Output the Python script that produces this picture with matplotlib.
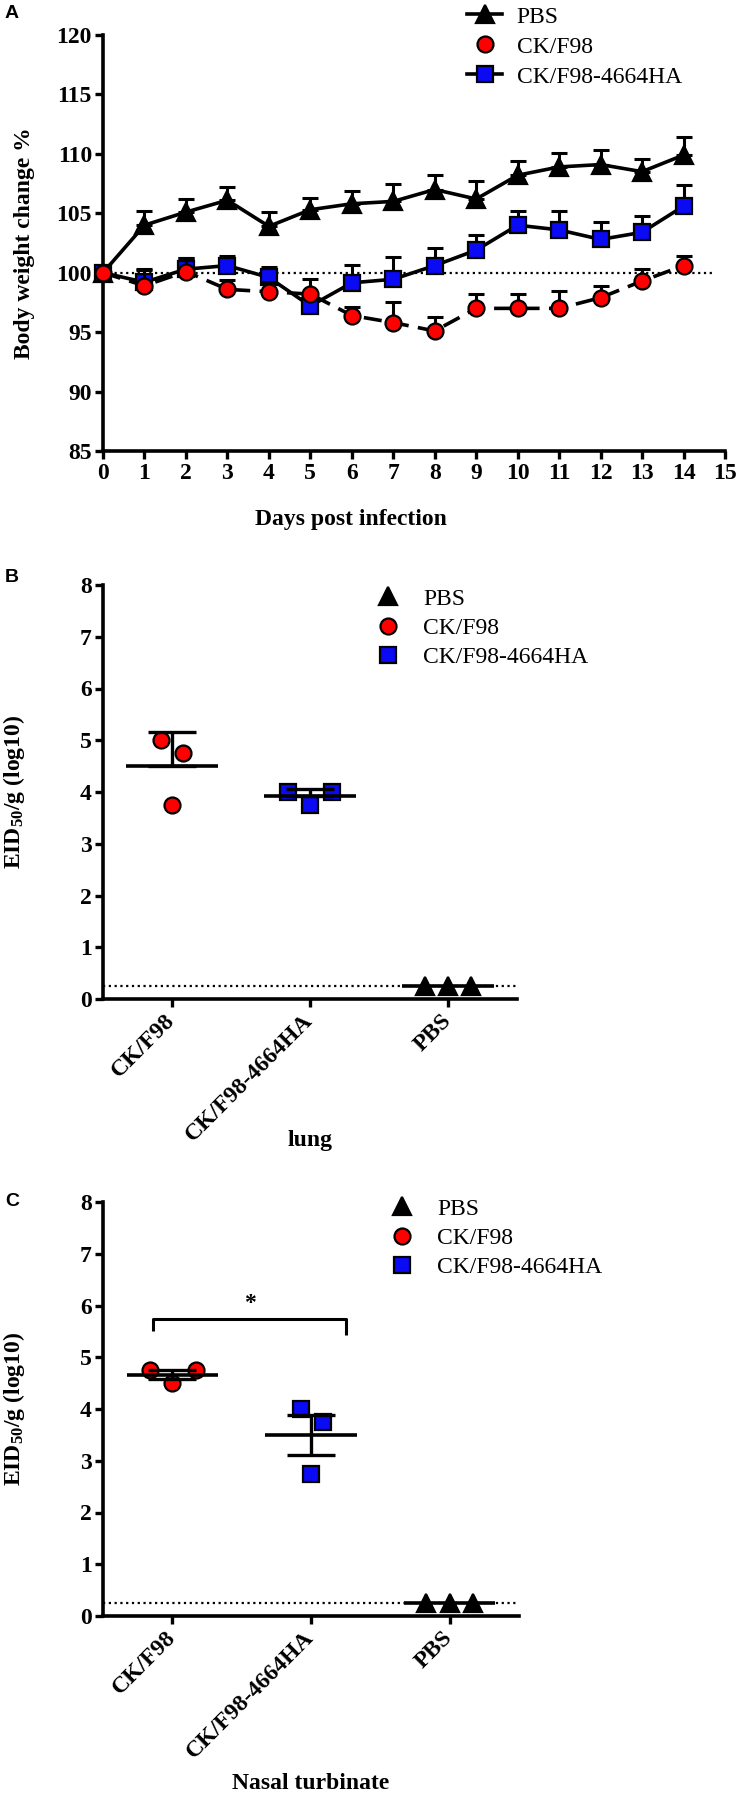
import matplotlib
matplotlib.use('Agg')
import matplotlib.pyplot as plt
import numpy as np
from matplotlib.lines import Line2D

plt.rcParams['font.family'] = ['Liberation Serif', 'DejaVu Serif']
plt.rcParams['font.weight'] = 'bold'
plt.rcParams['mathtext.fontset'] = 'custom'
plt.rcParams['mathtext.rm'] = 'Liberation Serif:bold'
plt.rcParams['mathtext.it'] = 'Liberation Serif:bold'
plt.rcParams['mathtext.bf'] = 'Liberation Serif:bold'

# ---------------- data ----------------
days = list(range(0, 15))
pbs_weight = [100, 104.0, 105.1, 106.1, 103.9, 105.3, 105.8, 106.0, 107.0, 106.2, 108.2, 108.9, 109.1, 108.5, 109.9]
pbs_err = [0, 1.2, 1.1, 1.1, 1.2, 1.0, 1.1, 1.5, 1.2, 1.5, 1.2, 1.2, 1.2, 1.1, 1.5]
ck_weight = [100, 98.9, 100.1, 98.6, 98.4, 98.2, 96.4, 95.8, 95.1, 97.0, 97.0, 97.0, 97.9, 99.3, 100.6]
ck_err = [0, 1.4, 1.1, 0.8, 0.8, 1.3, 0.7, 1.7, 1.2, 1.2, 1.2, 1.5, 1.0, 1.0, 0.8]
ha_weight = [100, 99.2, 100.3, 100.6, 99.6, 97.2, 99.15, 99.45, 100.6, 101.9, 104.0, 103.6, 102.8, 103.4, 105.6]
ha_err = [0, 1.0, 0.9, 0.8, 0.9, 0.8, 1.5, 1.9, 1.5, 1.3, 1.2, 1.6, 1.5, 1.4, 1.8]

categories = ['CK/F98', 'CK/F98-4664HA', 'PBS']
legend_labels = ['PBS', 'CK/F98', 'CK/F98-4664HA']

lung_ck = [5.0, 4.75, 3.75]
lung_ha = [4.0, 3.75, 4.0]
lung_pbs = [0.25, 0.25, 0.25]

nasal_ck = [4.75, 4.5, 4.75]
nasal_ha = [4.0, 3.75, 2.75]
nasal_pbs = [0.25, 0.25, 0.25]

detection_limit = 0.25

# ---------------- layout / style ----------------
RED = '#FF0000'
BLUE = '#0A0AF5'
LW = 2.6
MS = 11.5
MEW = 1.6
FS = 17
LEGFS = 17
DOTS = (0, (1.0, 1.6))

fig = plt.figure(figsize=(7.39, 17.98), dpi=100)
W, H = 739.0, 1798.0


def ax_rect(l, r, t, b):
    return [l / W, 1 - b / H, (r - l) / W, (b - t) / H]


def style_axes(ax):
    for s in ['top', 'right']:
        ax.spines[s].set_visible(False)
    for s in ['left', 'bottom']:
        ax.spines[s].set_linewidth(2.6)
    ax.tick_params(axis='both', which='major', direction='out', length=5.5, width=2.4,
                   labelsize=FS)
    ax.tick_params(axis='y', pad=2.5)
    ax.tick_params(axis='x', pad=3)
    for lab in ax.get_xticklabels() + ax.get_yticklabels():
        lab.set_fontweight('bold')


# ---------------- Panel A ----------------
axA = fig.add_axes(ax_rect(103, 725, 35, 451))
axA.set_xlim(0, 15)
axA.set_ylim(85, 120)
axA.axhline(100, xmin=0, xmax=14.7 / 15, color='black', lw=1.6, ls=DOTS, zorder=1)

zeros = np.zeros(len(days))
series = [
    (pbs_weight, pbs_err, '^', 'black', '-', 3),
    (ha_weight, ha_err, 's', BLUE, '-', 4),
    (ck_weight, ck_err, 'o', RED, (0, (5.0, 2.6)), 5),
]
for vals, err, mk, fc, ls, z in series:
    axA.errorbar(days, vals, yerr=[zeros, err], fmt='none', ecolor='black', elinewidth=2.2,
                 capsize=5.5, capthick=2.2, zorder=z - 0.5, clip_on=False)
    axA.plot(days, vals, color='black', lw=LW, ls=ls, marker=mk, ms=MS if mk != '^' else 12.5,
             mfc=fc, mec='black', mew=MEW, zorder=z, clip_on=False)

axA.set_xticks(range(0, 16))
axA.set_yticks(range(85, 121, 5))
style_axes(axA)
axA.set_xlabel('Days post infection', fontsize=FS, fontweight='bold')
axA.xaxis.set_label_coords((351 - 103) / 622.0, -(509 - 451) / 416.0)
axA.xaxis.label.set_va('top')
axA.set_ylabel('Body weight change %', fontsize=FS, fontweight='bold')
axA.yaxis.set_label_coords(-(103 - 35) / 622.0, 0.5)

hA = [
    Line2D([], [], color='black', lw=LW, marker='^', ms=12.5, mfc='black', mec='black', mew=MEW),
    Line2D([], [], ls='none', marker='o', ms=MS, mfc=RED, mec='black', mew=MEW),
    Line2D([], [], color='black', lw=LW, marker='s', ms=MS, mfc=BLUE, mec='black', mew=MEW),
]
axA.legend(hA, legend_labels, loc='upper left', bbox_to_anchor=((467 - 103) / 622.0, (451 - 6) / 416.0),
           frameon=False, borderpad=0, borderaxespad=0, handlelength=1.5, handletextpad=0.6,
           labelspacing=0.36, numpoints=1, prop={'family': 'Liberation Serif', 'weight': 'normal', 'size': LEGFS})


# ---------------- Panels B and C ----------------
pos = np.arange(3)


def dot_panel(ax, ck, ha, pbs, ck_off, ha_off, pbs_off, err_kind):
    ax.set_xlim(-0.5, 2.5)
    ax.set_ylim(0, 8)
    ax.axhline(detection_limit, color='black', lw=1.6, ls=DOTS, zorder=1)
    groups = [(ck, ck_off, 'o', RED), (ha, ha_off, 's', BLUE), (pbs, pbs_off, '^', 'black')]
    for i, (vals, off, mk, fc) in enumerate(groups):
        vals = np.asarray(vals, float)
        m = vals.mean()
        sd = vals.std(ddof=1)
        ax.plot(pos[i] + np.asarray(off), vals, ls='none', marker=mk,
                ms=12.5 if mk == '^' else MS, mfc=fc, mec='black', mew=MEW, zorder=3, clip_on=False)
        ax.hlines(m, pos[i] - 0.33, pos[i] + 0.33, color='black', lw=LW, zorder=4)
        if err_kind == 'sd_up':
            yerr = [[0], [sd]]
        else:
            sem = sd / np.sqrt(len(vals))
            yerr = [[sem], [sem]]
        if sd > 0:
            ax.errorbar([pos[i]], [m], yerr=yerr, fmt='none', ecolor='black', elinewidth=2.4,
                        capsize=17, capthick=2.4, zorder=4)
    ax.set_xticks(pos)
    ax.set_xticklabels(categories)
    ax.set_yticks(range(0, 9))
    style_axes(ax)
    for lab in ax.get_xticklabels():
        lab.set_rotation(45)
        lab.set_ha('right')
        lab.set_va('center')
        lab.set_rotation_mode('anchor')
        lab.set_fontweight('bold')
    ax.tick_params(axis='x', pad=8)
    ax.set_ylabel(r'EID$_{\mathrm{50}}$/g (log10)', fontsize=FS, fontweight='bold')
    ax.yaxis.set_label_coords(-(103 - 27) / 414.0, 0.5)


def legend_markers(ax, x_anchor, y_anchor):
    h = [
        Line2D([], [], ls='none', marker='^', ms=12.5, mfc='black', mec='black', mew=MEW),
        Line2D([], [], ls='none', marker='o', ms=MS, mfc=RED, mec='black', mew=MEW),
        Line2D([], [], ls='none', marker='s', ms=MS, mfc=BLUE, mec='black', mew=MEW),
    ]
    ax.legend(h, legend_labels, loc='upper left', bbox_to_anchor=(x_anchor, y_anchor),
              frameon=False, borderpad=0, borderaxespad=0, handlelength=1.0, handletextpad=1.0,
              labelspacing=0.33, numpoints=1,
              prop={'family': 'Liberation Serif', 'weight': 'normal', 'size': LEGFS})


axB = fig.add_axes(ax_rect(103, 517, 585, 999))
dot_panel(axB, lung_ck, lung_ha, lung_pbs, [-0.08, 0.08, 0.0], [-0.16, 0.0, 0.16],
          [-0.17, 0.0, 0.17], 'sd_up')
axB.set_xlabel('lung', fontsize=FS, fontweight='bold')
axB.xaxis.set_label_coords(0.5, -(1130 - 999) / 414.0)
axB.xaxis.label.set_va('top')
legend_markers(axB, (376 - 103) / 414.0, (999 - 588) / 414.0)

axC = fig.add_axes(ax_rect(103, 519, 1202, 1616))
dot_panel(axC, nasal_ck, nasal_ha, nasal_pbs, [-0.16, 0.0, 0.17], [-0.07, 0.09, 0.0],
          [-0.17, 0.0, 0.17], 'sem')
axC.plot([-0.14, -0.14, 1.25, 1.25], [5.5, 5.74, 5.74, 5.43], color='black', lw=2.2,
         solid_capstyle='butt', zorder=4)
axC.text(0.56, 5.84, '*', ha='center', va='bottom', fontsize=17, fontweight='bold')
axC.set_xlabel('Nasal turbinate', fontsize=FS, fontweight='bold')
axC.xaxis.set_label_coords(0.5, -(1773 - 1616) / 414.0)
axC.xaxis.label.set_va('top')
legend_markers(axC, (390 - 103) / 416.0, (1616 - 1198) / 414.0)

# panel letters
for letter, yy in [('A', 14), ('B', 577), ('C', 1202)]:
    fig.text(12 / W, 1 - yy / H, letter, ha='center', va='center', fontsize=14,
             fontfamily='Liberation Sans', fontweight='bold')

fig.savefig('out.png', dpi=100)
